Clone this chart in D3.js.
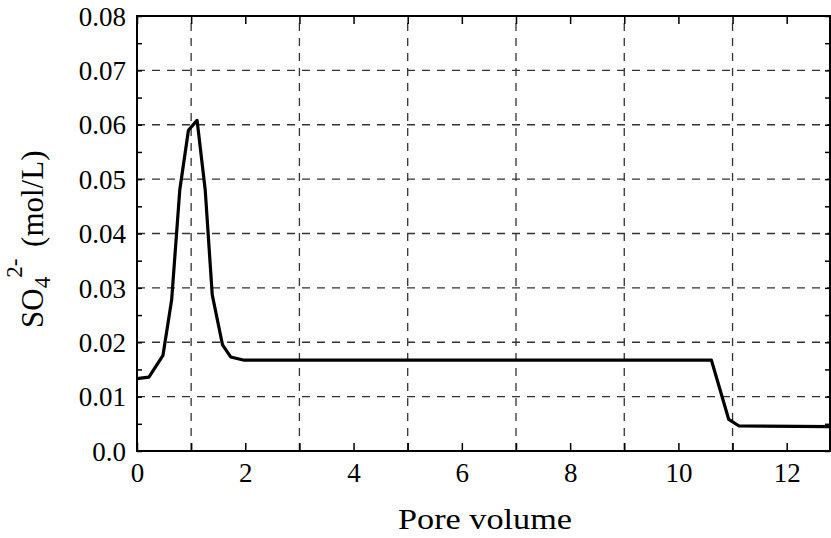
<!DOCTYPE html>
<html lang="en">
<head>
    <meta charset="UTF-8">
    <title>Sulfate breakthrough</title>
    <script src="https://d3js.org/d3.v7.min.js"></script>
    <style>
        body { margin: 0; background: #fff; }
    </style>
</head>
<body>
<script>

    const width  = 831;
    const height = 538;
    const margin = {top: 16, right: 1, bottom: 87, left: 137};
    const serif  = "'Liberation Serif', 'Times New Roman', Times, 'DejaVu Serif', serif";

    // pore volume vs SO4 2- concentration (mol/L)
    const poreVolume = [0, 0.22, 0.48, 0.64, 0.79, 0.95, 1.11, 1.26, 1.39, 1.58, 1.73, 1.98, 10.61, 10.93, 11.12, 12.8];
    const sulfate    = [0.0133, 0.0136, 0.0176, 0.0278, 0.048, 0.059, 0.0608, 0.048, 0.0287, 0.0195, 0.0173, 0.0167, 0.0167, 0.0058, 0.0046, 0.0045];

    const xTickLabels = [0, 2, 4, 6, 8, 10, 12];
    const yTickLabels = [0, 0.01, 0.02, 0.03, 0.04, 0.05, 0.06, 0.07, 0.08];
    const xGrid = [1, 3, 5, 7, 9, 11];
    const yGrid = [0.01, 0.02, 0.03, 0.04, 0.05, 0.06, 0.07];

    const points = poreVolume.map((v, i) => ({x: v, y: sulfate[i]}));

    const x = d3.scaleLinear()
            .domain([0, 12.8])
            .range([margin.left, width - margin.right]);
    const y = d3.scaleLinear()
            .domain([0, 0.08])
            .range([height - margin.bottom, margin.top]);

    const svg = d3.select("body")
            .append("svg")
            .attr("width", width)
            .attr("height", height);

    // grid
    svg.append("g")
            .selectAll("line")
            .data(xGrid)
            .enter()
            .append("line")
            .attr("x1", d => x(d)).attr("x2", d => x(d))
            .attr("y1", y(0)).attr("y2", y(0.08))
            .attr("stroke", "#333")
            .attr("stroke-width", 1.3)
            .attr("stroke-dasharray", "8,7");

    svg.append("g")
            .selectAll("line")
            .data(yGrid)
            .enter()
            .append("line")
            .attr("y1", d => y(d)).attr("y2", d => y(d))
            .attr("x1", x(0)).attr("x2", x(12.8))
            .attr("stroke", "#333")
            .attr("stroke-width", 1.3)
            .attr("stroke-dasharray", "8,7");

    // axes with ticks on all four sides
    const xTicks = d3.range(0, 13, 1);
    const yTicks = d3.range(0, 0.0801, 0.005);

    const bottom = svg.append("g")
            .attr("transform", "translate(0," + y(0) + ")")
            .call(d3.axisBottom(x).tickValues(xTicks).tickSizeInner(-8).tickSizeOuter(0)
                  .tickFormat(d => xTickLabels.includes(d) ? d : ""));
    bottom.selectAll(".tick text")
            .attr("dy", 0)
            .attr("y", 31)
            .style("font-family", serif)
            .style("font-size", "27px");

    svg.append("g")
            .attr("transform", "translate(0," + y(0.08) + ")")
            .call(d3.axisTop(x).tickValues(xTicks).tickSizeInner(-8).tickSizeOuter(0).tickFormat(""));

    const left = svg.append("g")
            .attr("transform", "translate(" + x(0) + ",0)")
            .call(d3.axisLeft(y).tickValues(yTicks).tickSizeInner(-5).tickSizeOuter(0)
                  .tickFormat(d => {
                      const hit = yTickLabels.find(t => Math.abs(t - d) < 1e-9);
                      if (hit === undefined) return "";
                      return hit === 0 ? "0.0" : d3.format(".2f")(hit);
                  }));
    left.selectAll(".tick text")
            .attr("x", -11)
            .attr("dy", "0.34em")
            .style("font-family", serif)
            .style("font-size", "27px");

    svg.append("g")
            .attr("transform", "translate(" + x(12.8) + ",0)")
            .call(d3.axisRight(y).tickValues(yTicks).tickSizeInner(-5).tickSizeOuter(0).tickFormat(""));

    svg.selectAll(".domain, .tick line")
            .attr("stroke", "#000");
    svg.selectAll(".tick line").attr("stroke-width", 1.5);

    svg.append("rect")
            .attr("x", x(0)).attr("y", y(0.08))
            .attr("width", x(12.8) - x(0))
            .attr("height", y(0) - y(0.08))
            .attr("fill", "none")
            .attr("stroke", "#000")
            .attr("stroke-width", 2);

    // curve
    const line = d3.line()
            .x(d => x(d.x))
            .y(d => y(d.y));

    svg.append("path")
            .datum(points)
            .attr("d", line)
            .attr("fill", "none")
            .attr("stroke", "#000")
            .attr("stroke-width", 3.2)
            .attr("stroke-linejoin", "round");

    // axis titles
    svg.append("text")
            .attr("x", 485)
            .attr("y", 529)
            .attr("text-anchor", "middle")
            .attr("textLength", 174)
            .attr("lengthAdjust", "spacingAndGlyphs")
            .style("font-family", serif)
            .style("font-size", "30px")
            .text("Pore volume");

    const yl = svg.append("text")
            .attr("transform", "translate(43,328) rotate(-90)")
            .attr("text-anchor", "start")
            .style("font-family", serif)
            .style("font-size", "31px");
    yl.append("tspan").text("SO");
    yl.append("tspan").attr("dy", 7).style("font-size", "23px").text("4");
    yl.append("tspan").attr("dx", -1).attr("dy", -28).style("font-size", "23px").text("2-");
    yl.append("tspan").attr("dx", 4).attr("dy", 21).text("\u00a0(mol/L)");

</script>
</body>
</html>
